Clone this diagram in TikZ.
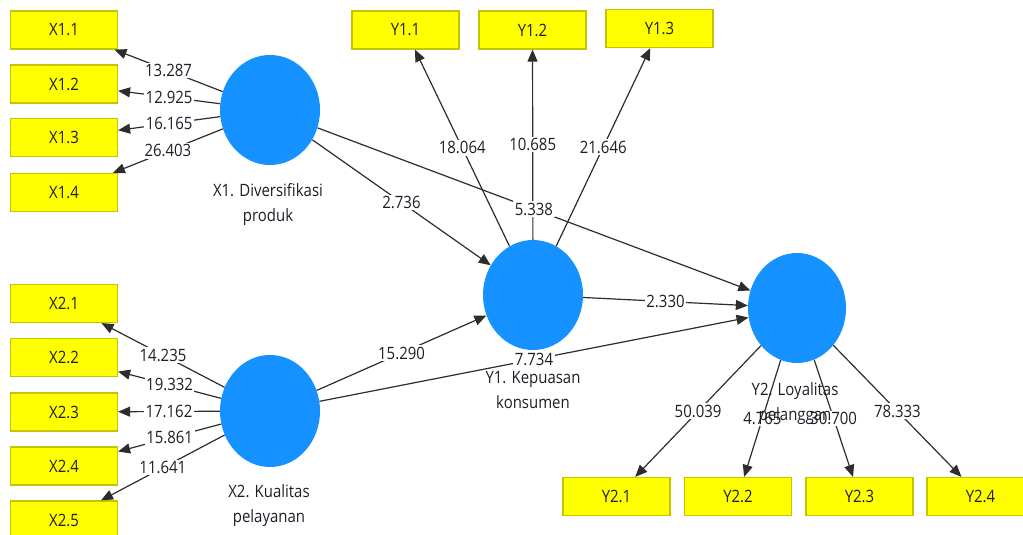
\documentclass[tikz,border=0pt]{standalone}
\usepackage{fontspec}
\setmainfont{Open Sans}[FakeStretch=0.88]
\usetikzlibrary{arrows.meta,shapes.geometric}
\definecolor{lvblue}{RGB}{21,146,255}
\definecolor{mvyellow}{RGB}{255,255,0}
\definecolor{mvborder}{RGB}{196,196,0}
\definecolor{linegray}{RGB}{45,45,45}
\definecolor{textdark}{RGB}{30,30,40}
\begin{document}
\begin{tikzpicture}[x=1pt,y=-1pt,
  ind/.style={draw=mvborder,fill=mvyellow,line width=1.2pt,minimum width=107pt,minimum height=38pt,inner sep=0pt,text=textdark,font=\fontsize{17}{17}\selectfont},
  lv/.style={ellipse,fill=lvblue,minimum width=100pt,minimum height=110pt,inner sep=0pt},
  lvlbl/.style={align=center,text=textdark,font=\fontsize{17}{25}\selectfont},
  conn/.style={draw=linegray,line width=1.2pt,-{Triangle[length=12pt,width=10pt]}},
  coef/.style={fill=white,inner sep=1.5pt,text=textdark,font=\fontsize{17}{17}\selectfont}
]
\useasboundingbox (0,0) rectangle (1023,535);
\clip (0,0) rectangle (1023,535);
\fill[white] (0,0) rectangle (1023,535);

% latent variables
\node[lv] (X1) at (270,110) {};
\node[lv,minimum height=112pt] (X2) at (270,411) {};
\node[lv] (Y1) at (533,295) {};
\node[lv,minimum width=98pt] (Y2) at (797,308) {};

% indicators
\node[ind] (x11) at (64,30) {X1.1};
\node[ind] (x12) at (64,84) {X1.2};
\node[ind] (x13) at (64,137.5) {X1.3};
\node[ind] (x14) at (64,192.5) {X1.4};
\node[ind] (x21) at (64,303.5) {X2.1};
\node[ind] (x22) at (64,357.5) {X2.2};
\node[ind] (x23) at (64,412) {X2.3};
\node[ind] (x24) at (64,466) {X2.4};
\node[ind] (x25) at (64,520) {X2.5};
\node[ind] (y11) at (405.5,30) {Y1.1};
\node[ind] (y12) at (532.5,30) {Y1.2};
\node[ind] (y13) at (659.5,28.5) {Y1.3};
\node[ind] (y21) at (616.5,496.5) {Y2.1};
\node[ind] (y22) at (738,496.5) {Y2.2};
\node[ind] (y23) at (859.5,496.5) {Y2.3};
\node[ind] (y24) at (980.5,496.5) {Y2.4};

% outer loadings
\draw[conn] (X1) -- node[coef]{13.287} (x11);
\draw[conn] (X1) -- node[coef]{12.925} (x12);
\draw[conn] (X1) -- node[coef]{16.165} (x13);
\draw[conn] (X1) -- node[coef]{26.403} (x14);
\draw[conn] (X2) -- node[coef]{14.235} (x21);
\draw[conn] (X2) -- node[coef]{19.332} (x22);
\draw[conn] (X2) -- node[coef]{17.162} (x23);
\draw[conn] (X2) -- node[coef]{15.861} (x24);
\draw[conn] (X2) -- node[coef]{11.641} (x25);
\draw[conn] (Y1) -- node[coef]{18.064} (y11);
\draw[conn] (Y1) -- node[coef]{10.685} (y12);
\draw[conn] (Y1) -- node[coef]{21.646} (y13);
\draw[conn] (Y2) -- node[coef]{50.039} (y21);
\draw[conn] (Y2) -- node[coef]{4.765} (y22);
\draw[conn] (Y2) -- node[coef]{30.700} (y23);
\draw[conn] (Y2) -- node[coef]{78.333} (y24);

% structural paths
\draw[conn] (X1) -- node[coef]{2.736} (Y1);
\draw[conn] (X1) -- node[coef]{5.338} (Y2);
\draw[conn] (X2) -- node[coef]{15.290} (Y1);
\draw[conn] (X2) -- node[coef]{7.734} (Y2);
\draw[conn] (Y1) -- node[coef]{2.330} (Y2);

% latent labels
\node[lvlbl] (lX1) at (268,205) {X1. Diversifikasi\\produk};
\node[lvlbl] (lX2) at (269,506) {X2. Kualitas\\pelayanan};
\node[lvlbl] (lY1) at (533,390) {Y1. Kepuasan\\konsumen};
\node[lvlbl] (lY2) at (795,404) {Y2. Loyalitas\\pelanggan};
\end{tikzpicture}
\end{document}
